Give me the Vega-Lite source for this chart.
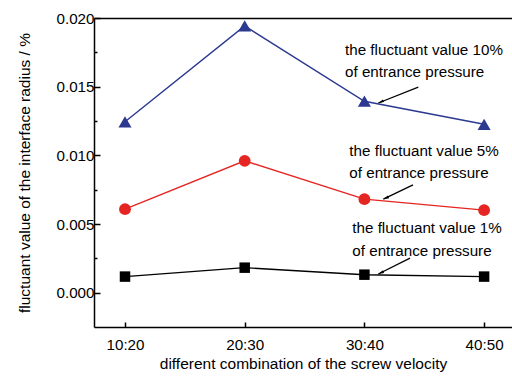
{
  "$schema": "https://vega.github.io/schema/vega-lite/v6.json",
  "width": 418,
  "height": 309,
  "autosize": {"type": "none"},
  "padding": {"left": 94, "top": 18, "right": 0, "bottom": 51},
  "background": "white",
  "config": {
    "view": {"stroke": null},
    "font": "Liberation Sans",
    "axis": {
      "domainColor": "black",
      "domainWidth": 1.5,
      "tickColor": "black",
      "tickWidth": 1.5,
      "grid": false,
      "labelFont": "Liberation Sans",
      "labelFontSize": 15.2,
      "labelColor": "black",
      "titleFont": "Liberation Sans",
      "titleFontSize": 15.5,
      "titleFontWeight": "normal",
      "titleColor": "black"
    }
  },
  "datasets": {
    "series": [
      {"x": 1, "v": 0.01244, "s": "10%"},
      {"x": 2, "v": 0.01942, "s": "10%"},
      {"x": 3, "v": 0.01394, "s": "10%"},
      {"x": 4, "v": 0.01226, "s": "10%"},
      {"x": 1, "v": 0.00608, "s": "5%"},
      {"x": 2, "v": 0.0096, "s": "5%"},
      {"x": 3, "v": 0.00681, "s": "5%"},
      {"x": 4, "v": 0.00601, "s": "5%"},
      {"x": 1, "v": 0.00117, "s": "1%"},
      {"x": 2, "v": 0.00182, "s": "1%"},
      {"x": 3, "v": 0.00131, "s": "1%"},
      {"x": 4, "v": 0.00117, "s": "1%"}
    ],
    "notes": [
      {"x": 2.838, "v": 0.01769, "label": "the fluctuant value 10%"},
      {"x": 2.838, "v": 0.01608, "label": "of entrance pressure"},
      {"x": 2.874, "v": 0.01028, "label": "the fluctuant value 5%"},
      {"x": 2.874, "v": 0.0087, "label": "of entrance pressure"},
      {"x": 2.899, "v": 0.00469, "label": "the fluctuant value 1%"},
      {"x": 2.899, "v": 0.00306, "label": "of entrance pressure"}
    ],
    "arrows": [
      {"x": 3.45, "v": 0.01497, "x2": 3.116, "v2": 0.01381},
      {"x": 3.406, "v": 0.00785, "x2": 3.158, "v2": 0.00681},
      {"x": 3.381, "v": 0.00251, "x2": 3.116, "v2": 0.00136}
    ]
  },
  "resolve": {"axis": {"x": "independent", "y": "independent"}},
  "layer": [
    {
      "data": {"name": "series"},
      "mark": {"type": "line", "strokeWidth": 1.4},
      "encoding": {
        "x": {
          "field": "x", "type": "quantitative",
          "scale": {"domain": [0.741, 4.233], "nice": false, "zero": false},
          "axis": {
            "orient": "bottom", "values": [1, 2, 3, 4], "tickSize": -5, "labelPadding": 15,
            "labelExpr": "datum.value == 1 ? '10:20' : datum.value == 2 ? '20:30' : datum.value == 3 ? '30:40' : '40:50'",
            "title": "different combination of the screw velocity", "titlePadding": 4
          }
        },
        "y": {
          "field": "v", "type": "quantitative",
          "scale": {"domain": [-0.0025, 0.02], "nice": false, "zero": false},
          "axis": {
            "orient": "left", "values": [0, 0.005, 0.01, 0.015, 0.02], "format": ".3f",
            "tickSize": -6, "labelPadding": 6,
            "title": "fluctuant value of the interface radius / %", "titlePadding": 23
          }
        },
        "color": {
          "field": "s", "type": "nominal",
          "scale": {"domain": ["10%", "5%", "1%"], "range": ["#2b3990", "#e52521", "#000000"]},
          "legend": null
        }
      }
    },
    {
      "data": {"name": "series"},
      "mark": {"type": "point", "filled": true, "opacity": 1},
      "encoding": {
        "x": {"field": "x", "type": "quantitative", "axis": null},
        "y": {"field": "v", "type": "quantitative", "axis": null},
        "color": {"field": "s", "type": "nominal", "legend": null},
        "shape": {
          "field": "s", "type": "nominal",
          "scale": {"domain": ["10%", "5%", "1%"], "range": ["triangle-up", "circle", "square"]},
          "legend": null
        },
        "size": {
          "field": "s", "type": "nominal",
          "scale": {"domain": ["10%", "5%", "1%"], "range": [170, 110, 100]},
          "legend": null
        }
      }
    },
    {
      "data": {"name": "notes"},
      "mark": {"type": "text", "align": "left", "baseline": "middle", "fontSize": 15.2, "font": "Liberation Sans", "color": "black"},
      "encoding": {
        "x": {
          "field": "x", "type": "quantitative",
          "axis": {"orient": "top", "labels": false, "ticks": false, "title": null, "domain": true}
        },
        "y": {
          "field": "v", "type": "quantitative",
          "axis": {"orient": "left", "values": [0.0025, 0.0075, 0.0125, 0.0175], "labels": false, "domain": false, "tickSize": -3, "title": null}
        },
        "text": {"field": "label"}
      }
    },
    {
      "data": {"name": "arrows"},
      "mark": {"type": "rule", "color": "black", "strokeWidth": 1.3},
      "encoding": {
        "x": {"field": "x", "type": "quantitative", "axis": null},
        "y": {"field": "v", "type": "quantitative", "axis": null},
        "x2": {"field": "x2"},
        "y2": {"field": "v2"}
      }
    },
    {
      "data": {"name": "arrows"},
      "mark": {"type": "point", "filled": true, "opacity": 1, "color": "black", "shape": "M0,0L0.45,1.8L-0.45,1.8Z", "size": 40, "angle": 246},
      "encoding": {
        "x": {"field": "x2", "type": "quantitative", "axis": null},
        "y": {"field": "v2", "type": "quantitative", "axis": null}
      }
    }
  ]
}
